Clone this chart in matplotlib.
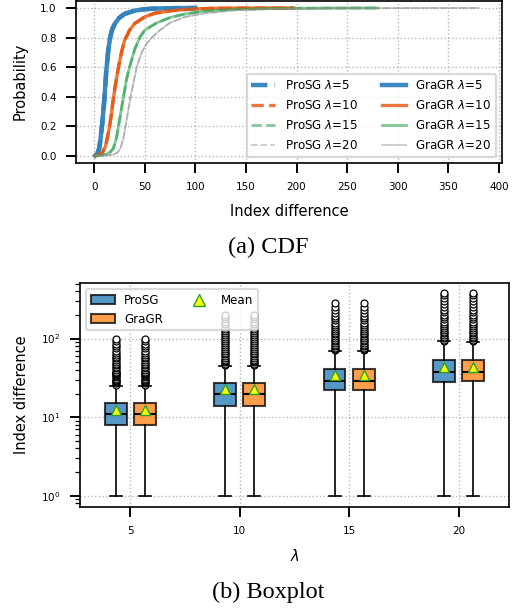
import matplotlib.pyplot as plt
from matplotlib.lines import Line2D
from matplotlib.patches import Patch

# ---- data ----
lambdas = [5, 10, 15, 20]
methods = ["ProSG", "GraGR"]

# (a) CDF of index difference, one curve per lambda (both methods overlap)
cdf_x_5 = [1, 3, 5, 6, 8, 10, 12, 14, 16, 18, 21, 25, 30, 40, 50, 60, 80, 100]
cdf_p_5 = [0.0, 0.01, 0.05, 0.10, 0.22, 0.38, 0.58, 0.72, 0.81, 0.86, 0.90,
           0.935, 0.96, 0.982, 0.992, 0.996, 0.999, 1.0]
cdf_x_10 = [1, 4, 8, 11, 13, 15, 17, 19, 21, 24, 27, 30, 35, 40, 50, 60, 80,
            100, 120, 150, 197]
cdf_p_10 = [0.0, 0.003, 0.02, 0.06, 0.12, 0.19, 0.28, 0.39, 0.48, 0.60, 0.70,
            0.78, 0.85, 0.895, 0.94, 0.965, 0.985, 0.994, 0.998, 0.9995, 1.0]
cdf_x_15 = [1, 6, 12, 16, 19, 22, 24, 27, 29, 32, 35, 40, 45, 50, 62, 75, 90,
            110, 140, 180, 230, 280]
cdf_p_15 = [0.0, 0.002, 0.01, 0.025, 0.05, 0.12, 0.2, 0.32, 0.4, 0.52, 0.6,
            0.72, 0.8, 0.85, 0.9, 0.935, 0.96, 0.98, 0.992, 0.997, 0.9993, 1.0]
cdf_x_20 = [1, 10, 18, 23, 26, 29, 31, 34, 36, 39, 42, 47, 52, 57, 65, 75, 90,
            110, 140, 180, 230, 300, 380]
cdf_p_20 = [0.0, 0.001, 0.006, 0.02, 0.05, 0.12, 0.2, 0.32, 0.4, 0.5, 0.6, 0.7,
            0.76, 0.8, 0.85, 0.9, 0.94, 0.965, 0.985, 0.994, 0.998, 0.9995, 1.0]

cdf_x = [cdf_x_5, cdf_x_10, cdf_x_15, cdf_x_20]
cdf_p = [cdf_p_5, cdf_p_10, cdf_p_15, cdf_p_20]

# (b) boxplot statistics per lambda
prosg_q1 = [8, 14, 22, 28]
prosg_med = [11, 20, 29, 38]
prosg_q3 = [15, 27, 41, 53]
prosg_mean = [12.4, 23, 34, 44]
prosg_whishi = [25, 45, 70, 92]
gragr_q1 = [8, 14, 22, 29]
gragr_med = [11, 20, 29, 38]
gragr_q3 = [15, 27, 41, 53]
gragr_mean = [12.5, 23, 34, 44]
gragr_whishi = [25, 45, 70, 90]
whislo = [1, 1, 1, 1]

fliers_5 = [26, 27, 28, 29, 30, 31, 32, 33, 34, 35, 36, 37, 38, 40, 42, 44, 46,
            48, 50, 53, 56, 59, 62, 66, 70, 75, 80, 86, 92, 100]
fliers_10 = [46, 48, 50, 52, 54, 57, 60, 63, 66, 70, 74, 78, 82, 87, 92, 98,
             104, 110, 117, 125, 133, 142, 152, 163, 175, 188, 200]
fliers_15 = [71, 74, 77, 80, 84, 88, 92, 97, 102, 107, 113, 119, 126, 133, 141,
             150, 160, 170, 182, 195, 210, 228, 250, 280]
fliers_20 = [93, 97, 101, 106, 111, 117, 123, 130, 137, 145, 154, 164, 175,
             187, 200, 215, 232, 252, 275, 300, 330, 360, 385]
fliers = [fliers_5, fliers_10, fliers_15, fliers_20]

# ---- styles ----
line_colors = ["#3182bd", "#e6550d", "#31a354", "#969696"]
line_alphas = [0.95, 0.8, 0.6, 0.5]
line_widths = [3.2, 2.4, 2.0, 1.3]
box_colors = ["tab:blue", "tab:orange"]

plt.rcParams["xtick.labelsize"] = 7.5
plt.rcParams["ytick.labelsize"] = 7.5
plt.rcParams["axes.labelsize"] = 10.5
plt.rcParams["axes.linewidth"] = 1.2


def style_axes(ax):
    ax.grid(True, linestyle=":", color="0.72", linewidth=1.0)
    ax.tick_params(which="major", direction="out", length=7, width=1.4, pad=7)
    ax.tick_params(which="minor", direction="out", length=3.5, width=0.9)


fig = plt.figure(figsize=(5.18, 6.10), dpi=100)

# ---- (a) CDF ----
ax1 = fig.add_axes([0.1467, 0.7328, 0.8223, 0.2662])
for i, lam in enumerate(lambdas):
    ax1.plot(cdf_x[i], cdf_p[i], linestyle="--", color=line_colors[i],
             alpha=line_alphas[i], linewidth=line_widths[i],
             label=f"ProSG $\\lambda$={lam}")
for i, lam in enumerate(lambdas):
    ax1.plot(cdf_x[i], cdf_p[i], linestyle="-", color=line_colors[i],
             alpha=line_alphas[i], linewidth=line_widths[i],
             label=f"GraGR $\\lambda$={lam}")
ax1.set_xlim(-18, 403)
ax1.set_ylim(-0.05, 1.05)
ax1.set_xticks(range(0, 401, 50))
ax1.set_yticks([0.0, 0.2, 0.4, 0.6, 0.8, 1.0])
ax1.set_xlabel("Index difference", labelpad=8)
ax1.set_ylabel("Probability", labelpad=9)
style_axes(ax1)
leg1 = ax1.legend(ncol=2, loc="lower right", fontsize=8.6, framealpha=0.8,
                  labelspacing=0.6)
leg1.get_frame().set_linewidth(1.6)
leg1.get_frame().set_edgecolor("0.82")

# ---- (b) boxplot ----
ax2 = fig.add_axes([0.1544, 0.1689, 0.8282, 0.3672])
offsets = [-0.67, 0.67]
q1s = [prosg_q1, gragr_q1]
meds = [prosg_med, gragr_med]
q3s = [prosg_q3, gragr_q3]
means = [prosg_mean, gragr_mean]
whis = [prosg_whishi, gragr_whishi]
for m in range(2):
    stats = []
    for i in range(len(lambdas)):
        stats.append(dict(q1=q1s[m][i], med=meds[m][i], q3=q3s[m][i],
                          mean=means[m][i], whislo=whislo[i],
                          whishi=whis[m][i], fliers=fliers[i]))
    bp = ax2.bxp(stats, positions=[l + offsets[m] for l in lambdas],
                 widths=1.0, patch_artist=True, showmeans=True,
                 capwidths=0.55, manage_ticks=False,
                 boxprops=dict(linewidth=1.5, edgecolor="black"),
                 medianprops=dict(color="black", linewidth=1.5),
                 whiskerprops=dict(color="black", linewidth=1.2),
                 capprops=dict(color="black", linewidth=1.2),
                 meanprops=dict(marker="^", markerfacecolor="yellow",
                                markeredgecolor="#2ca02c", markersize=7.5),
                 flierprops=dict(marker="o", markerfacecolor="white",
                                 markeredgecolor="black", markersize=5,
                                 markeredgewidth=0.9))
    for box in bp["boxes"]:
        box.set_facecolor(box_colors[m])
        box.set_alpha(0.75)

ax2.set_yscale("log")
ax2.set_xlim(2.7, 22.3)
ax2.set_ylim(0.72, 510)
ax2.set_xticks(lambdas)
ax2.set_xticklabels([str(l) for l in lambdas])
ax2.set_xlabel("$\\lambda$", labelpad=8)
ax2.set_ylabel("Index difference", labelpad=9)
style_axes(ax2)
ax2.grid(False, which="minor")

handles = [
    Patch(facecolor="tab:blue", edgecolor="black", alpha=0.75, linewidth=1.5,
          label="ProSG"),
    Patch(facecolor="tab:orange", edgecolor="black", alpha=0.75, linewidth=1.5,
          label="GraGR"),
    Line2D([], [], linestyle="none", marker="^", markerfacecolor="yellow",
           markeredgecolor="#2ca02c", markersize=8, label="Mean"),
]
leg2 = ax2.legend(handles=handles, ncol=2, loc="upper left", fontsize=8.6,
                  framealpha=0.8)
leg2.get_frame().set_linewidth(1.6)
leg2.get_frame().set_edgecolor("0.82")

# captions
fig.text(0.5174, 1 - 247 / 610, "(a) CDF", ha="center", va="center",
         family="Liberation Serif", fontsize=17.5)
fig.text(0.5174, 1 - 592 / 610, "(b) Boxplot", ha="center", va="center",
         family="Liberation Serif", fontsize=17.5)

fig.savefig("out.png", dpi=100)
